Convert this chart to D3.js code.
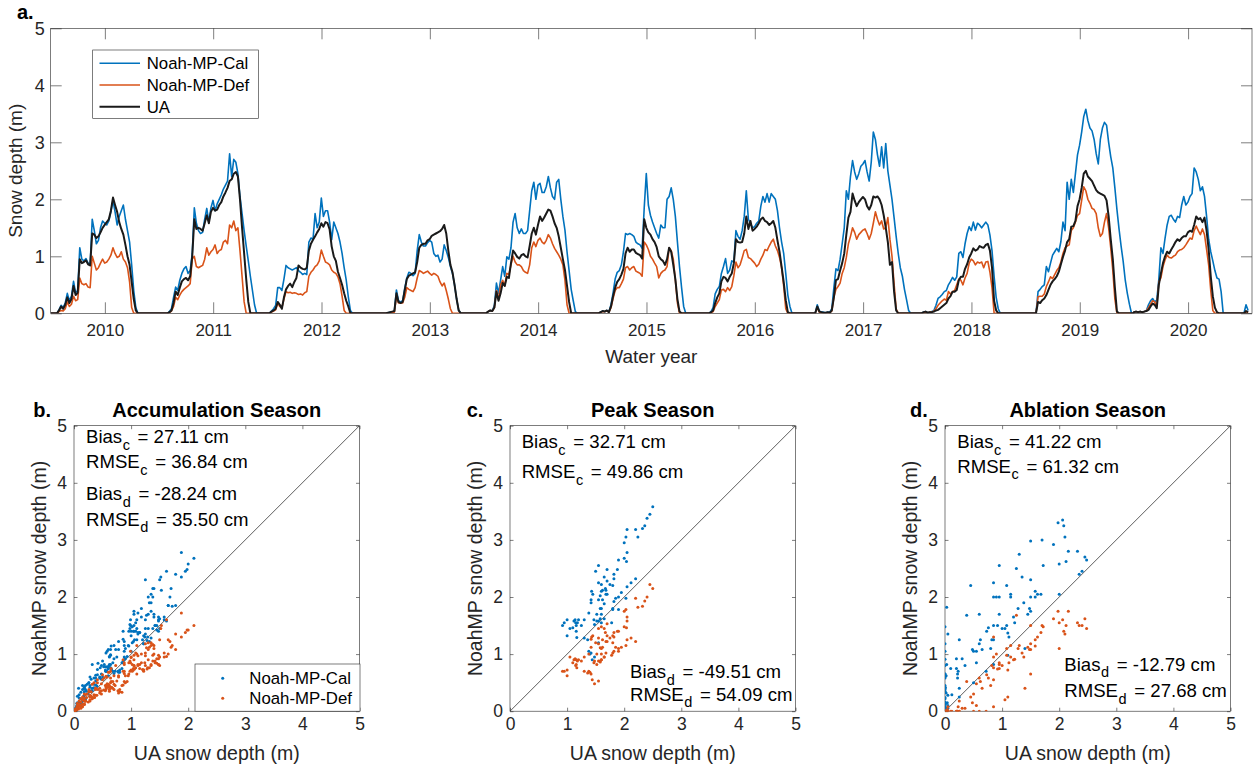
<!DOCTYPE html>
<html>
<head>
<meta charset="utf-8">
<script src="https://cdn.jsdelivr.net/npm/d3@7"></script>
<style>
  body { margin: 0; background: #fff; }
  svg { display: block; font-family: "Liberation Sans", Arial, Helvetica, sans-serif; }
</style>
</head>
<body>
<script>
// water years on panel a (each tick sits in the middle of its water year)
const waterYears = [2010, 2011, 2012, 2013, 2014, 2015, 2016, 2017, 2018, 2019, 2020];
// week of the water year at which each yearly list below starts
const seasonStartWeek = [4, 5, 2, 6, 2, 4, 5, 4, 3, 6, 0];

// weekly snow depth (cm), one list per water year
const uaCm = [
  [5,12,8,15,28,18,25,48,32,36,95,88,90,93,86,84,140,138,132,135,142,150,155,160,165,180,203,190,178,160,148,138,120,100,85,55,25,5,0],
  [2,5,18,38,32,45,56,60,62,58,65,100,165,148,150,148,145,158,172,158,178,185,180,182,190,195,205,212,220,232,235,245,248,240,200,150,105,60,20,0,0,0,0],
  [3,5,8,20,15,8,28,42,48,52,46,55,62,84,80,78,77,80,110,122,129,135,142,148,158,152,160,158,147,117,100,92,73,62,50,35,22,12,0,0],
  [1,2,3,4,35,20,18,20,40,60,66,68,70,72,90,115,120,122,122,128,130,136,138,140,142,144,148,155,140,110,85,72,50,25,5,0],
  [3,5,4,10,38,22,35,53,48,64,62,88,110,105,99,96,102,104,100,98,118,140,150,138,155,170,162,168,175,182,180,170,158,150,135,115,95,76,48,20,0,0,0,0],
  [2,4,3,5,2,12,30,45,55,60,68,78,105,115,108,112,112,106,104,102,96,165,150,142,138,130,125,116,100,95,92,85,95,115,108,85,60,25,3,0,0,0],
  [2,5,18,28,35,56,64,62,56,64,70,88,130,125,124,125,140,170,148,162,145,148,152,158,165,168,162,160,155,158,162,150,128,108,82,55,23,2,0,0],
  [12,3,2,1,1,2,1,5,28,58,60,75,88,105,138,168,178,210,198,188,195,200,204,200,188,182,190,205,203,205,200,190,172,150,125,85,90,38,5,0,0,0,0,0,0,0],
  [2,3,1,2,2,3,5,6,9,12,15,18,26,30,38,38,41,58,64,64,78,86,98,105,114,110,112,118,116,115,120,122,110,80,22,5,0,0],
  [20,18,23,26,32,41,50,56,60,65,73,86,99,110,125,130,152,153,162,188,200,220,245,250,240,236,232,224,216,212,210,208,206,198,170,130,95,45,3,0,0,0,0,0,0,0],
  [2,3,2,3,2,3,4,6,12,17,15,9,50,70,88,100,108,105,112,118,125,130,127,132,135,135,142,145,143,155,170,165,167,160,168,145,112,65,30,10,2,0,0,0,0,0,0,0,0,0,0,0,0,0,4,2]
];
const calCm = [
  [6,14,10,18,35,22,30,56,36,40,115,95,92,96,88,85,165,145,122,128,150,162,158,155,162,178,198,178,155,170,180,190,165,145,125,85,40,10,0],
  [3,8,28,46,40,58,70,78,82,70,75,105,185,158,145,140,142,165,184,160,185,198,180,192,200,208,218,225,232,280,240,270,265,245,205,175,145,118,92,65,40,15,0],
  [4,8,14,45,45,40,60,84,80,78,76,78,80,75,72,68,70,68,125,132,130,175,150,160,202,170,180,180,160,129,160,150,140,125,105,80,58,29,5,0],
  [1,2,2,3,41,22,20,22,44,62,72,70,66,70,110,138,125,118,118,124,128,125,105,100,102,90,95,120,110,98,82,70,50,25,5,0],
  [3,5,4,14,53,35,58,82,65,99,95,115,160,175,150,140,148,140,140,145,180,215,230,200,225,228,212,212,222,240,220,205,200,230,235,200,170,146,108,75,42,22,3,0],
  [2,4,3,5,3,15,36,60,72,75,85,108,140,138,140,138,135,125,122,120,114,185,245,190,172,160,150,140,132,155,150,150,200,205,220,200,170,125,82,45,12,0],
  [3,10,34,42,47,70,82,96,70,76,92,90,145,135,130,145,170,215,165,158,150,152,158,162,188,205,195,210,195,210,205,200,180,150,125,105,70,32,12,0],
  [15,4,2,2,1,2,2,8,45,78,75,95,122,150,215,200,240,268,248,235,245,258,262,268,248,232,265,318,305,278,258,292,255,298,250,225,200,168,135,105,80,65,42,24,5,0],
  [2,3,1,2,3,5,14,26,29,33,38,40,50,56,63,58,64,105,108,98,122,140,152,145,160,146,158,155,150,155,160,155,137,110,65,28,8,0],
  [38,42,47,50,82,73,88,102,108,114,108,126,160,145,230,200,235,212,245,278,295,318,345,358,338,325,320,305,280,262,305,325,335,330,300,275,255,220,182,148,118,91,58,35,16,0],
  [2,3,2,3,2,3,5,15,22,26,20,23,60,115,105,132,155,170,172,165,160,170,168,190,205,190,195,205,210,255,248,235,215,222,205,170,130,108,92,75,62,60,38,0,0,0,0,0,0,0,0,0,0,0,15,5]
];
const defCm = [
  [3,5,4,8,20,12,16,30,22,24,62,52,50,52,46,45,100,88,76,80,88,95,88,90,95,102,115,105,98,100,108,95,90,80,55,10,0,0,0],
  [1,4,12,28,24,32,38,42,45,48,52,95,100,82,80,82,84,95,115,102,108,112,120,105,110,112,125,128,122,155,150,162,145,150,110,65,20,0,0,0,0,0,0],
  [2,4,6,18,12,10,25,38,36,37,35,36,35,33,34,32,36,38,65,72,76,82,85,92,111,100,90,88,85,76,72,70,64,52,30,5,0,0,0,0],
  [1,1,2,2,29,18,18,18,28,45,42,40,38,45,62,75,73,70,72,74,70,67,70,68,65,55,48,53,40,25,8,0,0,0,0,0],
  [3,5,4,10,40,24,50,58,48,70,68,85,100,90,85,85,82,75,72,70,85,115,125,117,128,132,125,122,128,138,132,122,114,108,102,95,85,58,15,0,0,0,0,0],
  [2,3,3,4,2,10,26,40,45,45,52,60,80,82,76,80,82,74,72,70,65,125,120,112,100,95,88,82,62,70,74,76,82,115,110,95,58,18,0,0,0,0],
  [1,3,12,18,24,41,42,38,45,40,47,66,90,80,85,97,110,112,98,96,92,88,82,86,95,102,112,110,118,125,130,118,110,98,80,48,8,0,0,0],
  [10,2,1,1,1,1,1,4,28,42,47,53,70,80,98,122,135,150,142,130,138,142,146,148,140,130,140,158,178,165,155,162,148,150,168,130,100,52,8,0,0,0,0,0,0,0],
  [1,2,1,2,2,4,8,14,18,22,25,23,38,34,38,40,50,60,58,50,62,70,88,95,92,85,90,88,90,80,90,91,72,45,0,0,0,0],
  [29,30,30,34,47,55,64,61,68,75,80,90,105,115,118,120,145,150,160,172,175,198,222,215,200,193,184,182,175,150,135,140,160,175,150,115,75,25,0,0,0,0,0,0,0,0],
  [2,3,2,3,2,3,4,10,16,22,20,12,55,62,82,94,102,98,97,100,102,108,111,112,115,120,126,132,130,145,153,145,138,148,138,112,85,40,5,0,0,0,0,0,0,0,0,0,0,0,0,0,0,0,3,1]
];

// season windows (weeks of the water year) for panels b-d
const seasonNames = ["Accumulation Season", "Peak Season", "Ablation Season"];
const seasonLetters = ["b.", "c.", "d."];
const seasonFirstWeek = [0, 26, 34];
const seasonLastWeek = [25, 33, 60];

// error statistics per season (cm)
const biasCal = [27.11, 32.71, 41.22];
const rmseCal = [36.84, 49.86, 61.32];
const biasDef = [-28.24, -49.51, -12.79];
const rmseDef = [35.50, 54.09, 27.68];

const depthTicks = [0, 1, 2, 3, 4, 5];
const calColor = "#0072BD", defColor = "#D95319", uaColor = "#1a1a1a";
const axisGray = "#262626";
const intFmt = d3.format("d");

const svg = d3.select("body").append("svg").attr("width", 1253).attr("height", 770);
svg.append("rect").attr("width", 1253).attr("height", 770).attr("fill", "#fff");

function styleAxis(g, fs) {
  g.attr("font-family", null).attr("font-size", null);
  g.select(".domain").remove();
  g.selectAll(".tick line").attr("stroke", axisGray).attr("stroke-width", 0.6);
  g.selectAll(".tick text").attr("fill", axisGray).attr("font-size", fs);
}

// ---------- panel a: weekly time series ----------
const weekFrac = 7 / 365.25;
function buildSeries(cm) {
  const pts = [];
  waterYears.forEach((yr, i) => {
    const start = seasonStartWeek[i], vals = cm[i];
    const lastWeek = i === waterYears.length - 1 ? start + vals.length - 1 : 52;
    for (let w = 0; w <= lastWeek; w++) {
      const k = w - start;
      const v = k >= 0 && k < vals.length ? vals[k] : 0;
      pts.push({ t: yr - 0.5 + w * weekFrac, v: v / 100 });
    }
  });
  return pts;
}

const pa = { left: 50.7, right: 1252, top: 28.3, bottom: 313.3 };
const x = d3.scaleLinear().domain([2009.5, 2020.59]).range([pa.left, pa.right]);
const y = d3.scaleLinear().domain([0, 5]).range([pa.bottom, pa.top]);

svg.append("clipPath").attr("id", "clipA")
  .append("rect").attr("x", pa.left).attr("y", pa.top)
  .attr("width", pa.right - pa.left).attr("height", pa.bottom - pa.top);

svg.append("rect")
  .attr("x", pa.left).attr("y", pa.top)
  .attr("width", pa.right - pa.left).attr("height", pa.bottom - pa.top)
  .attr("fill", "none").attr("stroke", axisGray).attr("stroke-width", 0.6);

svg.append("g").attr("transform", `translate(0,${pa.bottom})`)
  .call(d3.axisBottom(x).tickValues(waterYears).tickFormat(intFmt)
    .tickSizeInner(-11).tickSizeOuter(0).tickPadding(10.5))
  .call(g => styleAxis(g, 17));
svg.append("g").attr("transform", `translate(0,${pa.top})`)
  .call(d3.axisTop(x).tickValues(waterYears).tickFormat("").tickSizeInner(-11).tickSizeOuter(0))
  .call(g => styleAxis(g, 17));
svg.append("g").attr("transform", `translate(${pa.left},0)`)
  .call(d3.axisLeft(y).tickValues(depthTicks).tickFormat(intFmt)
    .tickSizeInner(-11).tickSizeOuter(0).tickPadding(6))
  .call(g => styleAxis(g, 18));
svg.append("g").attr("transform", `translate(${pa.right},0)`)
  .call(d3.axisRight(y).tickValues(depthTicks).tickFormat("").tickSizeInner(-11).tickSizeOuter(0))
  .call(g => styleAxis(g, 17));

const line = d3.line().x(d => x(d.t)).y(d => y(d.v));
const series = [
  { name: "Noah-MP-Cal", color: calColor, width: 1.6, data: buildSeries(calCm) },
  { name: "Noah-MP-Def", color: defColor, width: 1.6, data: buildSeries(defCm) },
  { name: "UA", color: uaColor, width: 2, data: buildSeries(uaCm) }
];
const linesG = svg.append("g").attr("clip-path", "url(#clipA)");
series.forEach(s => {
  linesG.append("path").datum(s.data)
    .attr("d", line).attr("fill", "none")
    .attr("stroke", s.color).attr("stroke-width", s.width)
    .attr("stroke-linejoin", "round");
});

// legend
const legA = svg.append("g");
legA.append("rect").attr("x", 92.7).attr("y", 50).attr("width", 165.6).attr("height", 68.3)
  .attr("fill", "#fff").attr("stroke", axisGray).attr("stroke-width", 0.6);
series.forEach((s, i) => {
  const cy = 63.3 + i * 21.7;
  legA.append("line").attr("x1", 99.5).attr("x2", 140).attr("y1", cy).attr("y2", cy)
    .attr("stroke", s.color).attr("stroke-width", s.width);
  legA.append("text").attr("x", 146.7).attr("y", cy + 6).attr("font-size", 16.8)
    .attr("fill", "#000").text(s.name);
});

svg.append("text").attr("x", 17).attr("y", 19).attr("font-size", 20)
  .attr("font-weight", "bold").text("a.");
svg.append("text")
  .attr("transform", `translate(${pa.left - 28.5},${(pa.top + pa.bottom) / 2}) rotate(-90)`)
  .attr("text-anchor", "middle").attr("font-size", 19).attr("fill", axisGray)
  .text("Snow depth (m)");
svg.append("text").attr("x", (pa.left + pa.right) / 2).attr("y", 363)
  .attr("text-anchor", "middle").attr("font-size", 19).attr("fill", axisGray)
  .text("Water year");

// ---------- panels b-d: model vs UA scatter per season ----------
function seasonPairs(modelCm, s) {
  const pts = [];
  waterYears.forEach((yr, i) => {
    const start = seasonStartWeek[i];
    uaCm[i].forEach((ua, k) => {
      const w = start + k;
      const m = modelCm[i][k];
      if (w < seasonFirstWeek[s] || w > seasonLastWeek[s]) return;
      if (ua === 0 && m === 0) return;
      pts.push({ ua: ua / 100, m: m / 100 });
    });
  });
  return pts;
}

function statText(g, px, py, name, sub, val) {
  const t = g.append("text").attr("x", px).attr("y", py).attr("font-size", 18.6).attr("fill", "#000");
  t.append("tspan").text(name);
  t.append("tspan").attr("dx", 0.5).attr("dy", 6.5).attr("font-size", 14.5).text(sub);
  t.append("tspan").attr("dx", 2.5).attr("dy", -6.5).text(" = " + val.toFixed(2) + " cm");
}

const panelLeft = [74, 510, 945];
const pTop = 425.7, pSize = 285.5;
const statPos = [
  { c: [86, 443.3, 468.3], d: [86, 500, 525.7] },
  { c: [521.7, 448.3, 478.3], d: [630, 678.3, 700.7] },
  { c: [957.3, 448.3, 472.7], d: [1064.3, 670.7, 697.3] }
];

seasonNames.forEach((title, s) => {
  const left = panelLeft[s];
  const sx = d3.scaleLinear().domain([0, 5]).range([left, left + pSize]);
  const sy = d3.scaleLinear().domain([0, 5]).range([pTop + pSize, pTop]);
  const g = svg.append("g");

  g.append("clipPath").attr("id", "clip" + s)
    .append("rect").attr("x", left).attr("y", pTop).attr("width", pSize).attr("height", pSize);

  g.append("rect").attr("x", left).attr("y", pTop).attr("width", pSize).attr("height", pSize)
    .attr("fill", "none").attr("stroke", axisGray).attr("stroke-width", 0.6);

  g.append("g").attr("transform", `translate(0,${pTop + pSize})`)
    .call(d3.axisBottom(sx).tickValues(depthTicks).tickFormat(intFmt)
      .tickSizeInner(-3.5).tickSizeOuter(0).tickPadding(6))
    .call(a => styleAxis(a, 17.5));
  g.append("g").attr("transform", `translate(0,${pTop})`)
    .call(d3.axisTop(sx).tickValues(depthTicks).tickFormat("").tickSizeInner(-3.5).tickSizeOuter(0))
    .call(a => styleAxis(a, 17));
  g.append("g").attr("transform", `translate(${left},0)`)
    .call(d3.axisLeft(sy).tickValues(depthTicks).tickFormat(intFmt)
      .tickSizeInner(-3.5).tickSizeOuter(0).tickPadding(7))
    .call(a => styleAxis(a, 17.5));
  g.append("g").attr("transform", `translate(${left + pSize},0)`)
    .call(d3.axisRight(sy).tickValues(depthTicks).tickFormat("").tickSizeInner(-3.5).tickSizeOuter(0))
    .call(a => styleAxis(a, 17));

  const plot = g.append("g").attr("clip-path", `url(#clip${s})`);
  plot.append("line")
    .attr("x1", sx(0)).attr("y1", sy(0)).attr("x2", sx(5)).attr("y2", sy(5))
    .attr("stroke", "#333").attr("stroke-width", 0.8);
  [[calCm, calColor], [defCm, defColor]].forEach(([cm, color]) => {
    plot.append("g").selectAll("circle")
      .data(seasonPairs(cm, s))
      .join("circle")
      .attr("cx", d => sx(d.ua)).attr("cy", d => sy(d.m))
      .attr("r", 1.5).attr("fill", color);
  });

  g.append("text").attr("x", left + pSize / 2).attr("y", 416.7)
    .attr("text-anchor", "middle").attr("font-size", 20).attr("font-weight", "bold")
    .text(title);
  g.append("text").attr("x", [33.3, 466.7, 910][s]).attr("y", 416.7)
    .attr("font-size", 20).attr("font-weight", "bold").text(seasonLetters[s]);

  g.append("text").attr("x", left + pSize / 2).attr("y", 760)
    .attr("text-anchor", "middle").attr("font-size", 19.5).attr("fill", axisGray)
    .text("UA snow depth (m)");
  g.append("text")
    .attr("transform", `translate(${left - 28},${pTop + pSize / 2}) rotate(-90)`)
    .attr("text-anchor", "middle").attr("font-size", 19.5).attr("fill", axisGray)
    .text("NoahMP snow depth (m)");

  const p = statPos[s];
  statText(g, p.c[0], p.c[1], "Bias", "c", biasCal[s]);
  statText(g, p.c[0], p.c[2], "RMSE", "c", rmseCal[s]);
  statText(g, p.d[0], p.d[1], "Bias", "d", biasDef[s]);
  statText(g, p.d[0], p.d[2], "RMSE", "d", rmseDef[s]);
});

// scatter legend (panel b)
const legB = svg.append("g");
legB.append("rect").attr("x", 195).attr("y", 664).attr("width", 165).attr("height", 47.2)
  .attr("fill", "#fff").attr("stroke", axisGray).attr("stroke-width", 0.6);
[["Noah-MP-Cal", calColor], ["Noah-MP-Def", defColor]].forEach(([name, color], i) => {
  const cy = 678.3 + i * 20;
  legB.append("circle").attr("cx", 222.7).attr("cy", cy).attr("r", 1.5).attr("fill", color);
  legB.append("text").attr("x", 249.3).attr("y", cy + 6).attr("font-size", 16.8).text(name);
});
</script>
</body>
</html>
